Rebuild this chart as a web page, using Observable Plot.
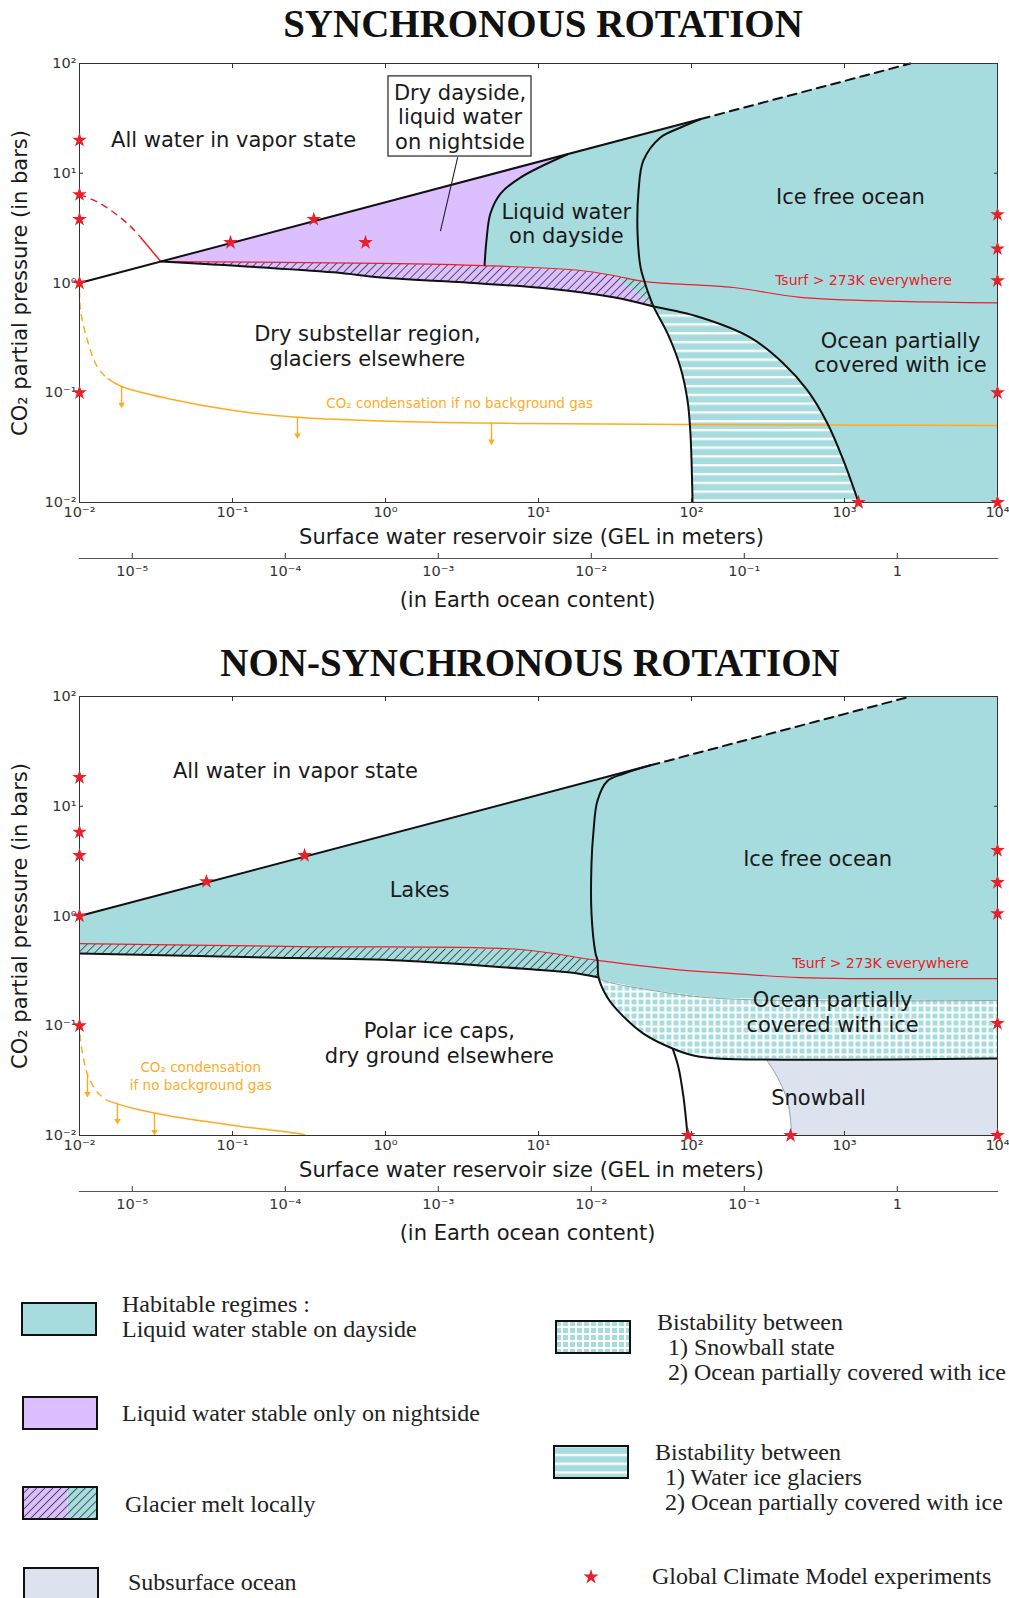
<!DOCTYPE html>
<html>
<head>
<meta charset="utf-8">
<script src="https://cdn.jsdelivr.net/npm/d3@7"></script>
<script src="https://cdn.jsdelivr.net/npm/@observablehq/plot@0.6"></script>
<style>
  body { margin: 0; background: #fff; }
  #page { position: relative; width: 1009px; height: 1598px; overflow: hidden; }
  .title { position: absolute; left: 0; text-align: center; font-family: "Liberation Serif"; font-weight: bold; font-size: 39px; line-height: 39px; color: #111; white-space: nowrap; }
  .panel { position: absolute; left: 0; }
  .leg { position: absolute; font-family: "Liberation Serif"; font-size: 24px; line-height: 25px; color: #222; white-space: nowrap; }
  .sw { position: absolute; overflow: visible; }
</style>
</head>
<body>
<svg width="0" height="0" style="position:absolute">
  <defs>
    <pattern id="hatch" patternUnits="userSpaceOnUse" width="5.7" height="5.7" patternTransform="rotate(45)">
      <line x1="0" y1="0" x2="0" y2="5.7" stroke="#111" stroke-width="1.3"/>
    </pattern>
    <pattern id="stripes" patternUnits="userSpaceOnUse" width="10" height="8.8">
      <rect width="10" height="8.8" fill="#a7dcde"/>
      <rect y="0" width="10" height="2.3" fill="#ffffff"/>
    </pattern>
    <pattern id="grid" patternUnits="userSpaceOnUse" width="7" height="7">
      <rect width="7" height="7" fill="#ffffff"/>
      <rect x="1" y="1" width="5" height="5" fill="#a7dcde"/>
    </pattern>
  </defs>
</svg>
<div id="page">
  <div class="title" style="top:4px;width:1086px;">SYNCHRONOUS ROTATION</div>
  <div class="title" style="top:643px;width:1060px;">NON-SYNCHRONOUS ROTATION</div>
  <div class="panel" id="p1" style="top:50px;"></div>
  <div class="panel" id="p2" style="top:683px;"></div>
  <div id="legend"></div>
</div>
<script>
// ================= DATA (x = GEL in meters, y = CO2 partial pressure in bars) =================
const OCEAN_GEL = 2213; // meters of GEL in one Earth ocean
const xTicks = [0.01, 0.1, 1, 10, 100, 1000, 10000];
const xTickLabels = ["10⁻²", "10⁻¹", "10⁰", "10¹", "10²", "10³", "10⁴"];
const yTicks = [0.01, 0.1, 1, 10, 100];
const yTickLabels = ["10⁻²", "10⁻¹", "10⁰", "10¹", "10²"];
const oceanTicks = [1e-5, 1e-4, 1e-3, 1e-2, 1e-1, 1];
const oceanTickLabels = ["10⁻⁵", "10⁻⁴", "10⁻³", "10⁻²", "10⁻¹", "1"];

// ---- Synchronous rotation ----
const syncVaporLine = [[0.01, 1], [115, 31.2]];
const syncVaporDashed = [[115, 31.2], [2700, 100]];
const syncKink = [0.034, 1.57];
const syncRedCO2Dashed = [[0.01, 6.4], [0.0137, 5.3], [0.0206, 3.48], [0.0251, 2.6]];
const syncRedCO2Solid = [[0.0251, 2.6], [0.034, 1.57]];
const syncTsurf = [[0.034, 1.57], [0.927, 1.51], [4.38, 1.44], [18.8, 1.30], [30.9, 1.17], [49.3, 1.03], [188, 0.91], [515, 0.74], [2323, 0.68], [10000, 0.66]];
const syncLowerLine = [[0.034, 1.57], [0.457, 1.25], [0.927, 1.12], [4.18, 0.99], [11.5, 0.89], [30.9, 0.74], [56.5, 0.61]];
const syncDaysideCurve = [[15.5, 14.9], [7.62, 9.14], [5.65, 6.53], [4.85, 4.30], [4.57, 2.44], [4.44, 1.44]];
const syncOceanCurve = [[115, 31.2], [85, 26.1], [62.7, 21.2], [48.5, 13.1], [45.1, 6.97], [44.4, 2.82], [46.5, 1.38], [49.3, 1.03], [51.5, 0.855], [56.5, 0.61], [69.7, 0.347], [84.7, 0.170], [94.2, 0.0849], [98.4, 0.0426], [101.6, 0.01]];
const syncIceEdge = [[56.5, 0.61], [115, 0.485], [243, 0.318], [399, 0.185], [573, 0.105], [774, 0.0525], [984, 0.0242], [1236, 0.01]];
const syncHatchSplit = [[30.9, 1.17], [41.8, 0.855], [56.5, 0.61]];
const syncCO2Dashed = [[0.01, 0.855], [0.01016, 0.562], [0.01127, 0.299], [0.01312, 0.170], [0.01524, 0.135]];
const syncCO2Solid = [[0.01524, 0.135], [0.01884, 0.114], [0.0376, 0.0887], [0.1016, 0.0689], [0.278, 0.0594], [1.25, 0.0547], [7.62, 0.0525], [94.2, 0.0514], [10000, 0.0504]];
const syncArrows = [{x: 0.01884, y1: 0.114, y2: 0.078}, {x: 0.266, y1: 0.0597, y2: 0.041}, {x: 4.93, y1: 0.0533, y2: 0.036}];
const syncStars = [[0.01, 20], [0.01, 6.4], [0.01, 3.8], [0.01, 1], [0.01, 0.1], [0.097, 2.34], [0.34, 3.8], [0.74, 2.34], [10000, 4.2], [10000, 2.05], [10000, 1.05], [10000, 0.1], [10000, 0.01], [1236, 0.01]];
const syncLabels = [
  {x: 0.1016, y: 20.3, text: "All water in vapor state"},
  {x: 15.2, y: 3.52, text: "Liquid water\non dayside"},
  {x: 1094, y: 6.14, text: "Ice free ocean"},
  {x: 2323, y: 0.235, text: "Ocean partially\ncovered with ice"},
  {x: 0.762, y: 0.270, text: "Dry substellar region,\nglaciers elsewhere"}
];
const syncTsurfLabel = [{x: 1330, y: 1.077, text: "Tsurf > 273K everywhere"}];
const syncCO2Label = [{x: 3.05, y: 0.0815, text: "CO₂ condensation if no background gas"}];
const syncBox = [{x1: 1.046, x2: 9.0, y1: 14.2, y2: 76.3, x: 3.07, y: 32.9, text: "Dry dayside,\nliquid water\non nightside"}];
const syncLeader = [[2.96, 13.9], [2.29, 3.0]];

// ---- Non-synchronous rotation ----
const nsVaporLine = [[0.01, 1], [54, 23.6]];
const nsVaporDashed = [[54, 23.6], [2700, 100]];
const nsTsurf = [[0.01, 0.561], [0.278, 0.527], [7.62, 0.495], [24.3, 0.394], [94.2, 0.318], [188, 0.299], [515, 0.275], [10000, 0.269]];
const nsLowerLine = [[0.01, 0.455], [0.169, 0.419], [1.25, 0.393], [7.62, 0.332], [16.2, 0.305], [24.7, 0.275]];
const nsOceanCurve = [[54, 23.6], [36, 19.8], [28.2, 17.0], [24.3, 11.3], [22.9, 6.01], [22.2, 3.01], [22.2, 1.05], [23.6, 0.455], [24.3, 0.394], [24.7, 0.275], [28.2, 0.181], [34.4, 0.129], [48.5, 0.0849], [75.2, 0.0621], [103, 0.0536], [148, 0.0504], [10000, 0.0504]];
const nsBistableTop = [[24.7, 0.275], [26.6, 0.258], [56.5, 0.209], [155, 0.177], [10000, 0.170]];
const nsSnowballEdge = [[305, 0.0504], [365, 0.0338], [424, 0.0208], [444, 0.0137], [451, 0.01]];
const nsLowerBranch = [[75.2, 0.0621], [82.2, 0.0417], [88.7, 0.0222], [94.2, 0.01]];
const nsCO2Dashed = [[0.01, 0.107], [0.01016, 0.0735], [0.01094, 0.0417], [0.01146, 0.0338], [0.01312, 0.0247], [0.01524, 0.0208]];
const nsCO2Solid = [[0.01524, 0.0208], [0.02254, 0.0176], [0.0376, 0.0152], [0.1016, 0.01233], [0.291, 0.0102], [0.30, 0.01]];
const nsArrows = [{x: 0.01127, y1: 0.036, y2: 0.024}, {x: 0.0177, y1: 0.0196, y2: 0.0136}, {x: 0.0309, y1: 0.0158, y2: 0.0108}];
const nsStars = [[0.01, 18.3], [0.01, 5.8], [0.01, 3.56], [0.01, 1], [0.01, 0.1], [0.0676, 2.06], [0.296, 3.56], [10000, 3.96], [10000, 2.02], [10000, 1.05], [10000, 0.105], [10000, 0.01], [95, 0.01], [444, 0.01]];
const nsLabels = [
  {x: 0.258, y: 21.2, text: "All water in vapor state"},
  {x: 1.67, y: 1.74, text: "Lakes"},
  {x: 667, y: 3.34, text: "Ice free ocean"},
  {x: 836, y: 0.135, text: "Ocean partially\ncovered with ice"},
  {x: 676, y: 0.0222, text: "Snowball"},
  {x: 2.25, y: 0.0703, text: "Polar ice caps,\ndry ground elsewhere"}
];
const nsTsurfLabel = [{x: 1718, y: 0.377, text: "Tsurf > 273K everywhere"}];
const nsCO2Label = [{x: 0.062, y: 0.0356, text: "CO₂ condensation\nif no background gas"}];

// ---- Legend ----
const legendLeft = [
  {swatch: "teal", text: ["Habitable regimes :", "Liquid water stable on dayside"]},
  {swatch: "purple", text: ["Liquid water stable only on nightside"]},
  {swatch: "hatch", text: ["Glacier melt locally"]},
  {swatch: "snow", text: ["Subsurface ocean"]}
];
const legendRight = [
  {swatch: "grid", text: ["Bistability between", "1) Snowball state", "2) Ocean partially covered with ice"]},
  {swatch: "stripes", text: ["Bistability between", "1) Water ice glaciers", "2) Ocean partially covered with ice"]},
  {swatch: "star", text: ["Global Climate Model experiments"]}
];

// ================= STYLE =================
const COL = {teal: "#a7dcde", purple: "#dcbfff", snow: "#dce2ee", red: "#e8202a", orange: "#ffab1f", ink: "#1a1a1a", thin: "#8f9ba0"};
const rev = a => a.slice().reverse();
const fmtLog = (ticks, labels, scale = 1) => d => {
  let best = 0, bestDist = Infinity;
  ticks.forEach((t, i) => { const dist = Math.abs(Math.log10(d / (t * scale))); if (dist < bestDist) { bestDist = dist; best = i; } });
  return labels[best];
};

function frameAndAxes() {
  const oceanValues = oceanTicks.map(v => v * OCEAN_GEL);
  return [
    Plot.frame({stroke: "#333", strokeWidth: 1}),
    Plot.axisX(xTicks, {anchor: "bottom", tickSize: -4, tickPadding: 8, tickFormat: fmtLog(xTicks, xTickLabels), fontSize: 14.5, label: null}),
    Plot.axisX(xTicks, {anchor: "top", tickSize: -4, tickFormat: () => "", label: null}),
    Plot.axisY(yTicks, {anchor: "left", tickSize: -4, tickPadding: 7, tickFormat: fmtLog(yTicks, yTickLabels), fontSize: 14.5, label: null}),
    Plot.axisY(yTicks, {anchor: "right", tickSize: -4, tickFormat: () => "", label: null}),
    // twin axis: Earth ocean content
    Plot.frame({anchor: "bottom", dy: 56, stroke: "#555", strokeWidth: 1.2}),
    Plot.axisX(oceanValues, {anchor: "bottom", dy: 56, tickSize: -5, tickFormat: () => "", label: null}),
    Plot.text(oceanValues, {x: d => d, text: (d, i) => oceanTickLabels[i], frameAnchor: "bottom", dy: 69, lineAnchor: "middle", textAnchor: "middle", fontSize: 14.5, fill: "#333"}),
    Plot.text(["CO₂ partial pressure (in bars)"], {frameAnchor: "left", dx: -59, rotate: -90, textAnchor: "middle", lineAnchor: "middle", fontSize: 21, fill: COL.ink}),
    Plot.text(["Surface water reservoir size (GEL in meters)"], {frameAnchor: "bottom", dy: 35, dx: -7, textAnchor: "middle", lineAnchor: "middle", fontSize: 21, fill: COL.ink}),
    Plot.text(["(in Earth ocean content)"], {frameAnchor: "bottom", dy: 98, dx: -11, textAnchor: "middle", lineAnchor: "middle", fontSize: 21, fill: COL.ink})
  ];
}

function makePlot(marks) {
  return Plot.plot({
    width: 1009, height: 565,
    marginTop: 13, marginRight: 12, marginBottom: 113, marginLeft: 79,
    x: {type: "log", domain: [0.01, 10000], axis: null},
    y: {type: "log", domain: [0.01, 100], axis: null},
    style: {fontFamily: "DejaVu Sans", fontSize: "14px", color: "#333", background: "transparent", overflow: "visible"},
    marks
  });
}

const fill = (poly, f) => Plot.line(poly, {fill: f, stroke: "none", curve: "linear"});
const curve = (data, o) => Plot.line(data, {curve: "catmull-rom", strokeLinecap: "butt", ...o});
const black = d => curve(d, {stroke: "#111", strokeWidth: 2});
const arrows = a => [
  Plot.ruleX(a, {x: "x", y1: "y1", y2: "y2", stroke: COL.orange, strokeWidth: 1.4}),
  Plot.dot(a, {x: "x", y: "y2", symbol: "triangle", rotate: 180, r: 2.4, fill: COL.orange, stroke: "none"})
];
const labels = (d, o) => Plot.text(d, {x: "x", y: "y", text: "text", lineHeight: 1.17, fill: COL.ink, fontSize: 21, ...o});
const stars = s => Plot.dot(s, {symbol: "star", r: 4.6, fill: COL.red, stroke: "none"});

// ---------- Panel 1 ----------
const syncPurplePoly = [syncKink, syncDaysideCurve[0], ...syncDaysideCurve.slice(1),
  ...syncTsurf.filter(p => p[0] > 4.44 && p[0] <= 30.9), ...syncHatchSplit.slice(1), ...rev(syncLowerLine).slice(1)];
const syncTealPoly = [syncDaysideCurve[0], ...syncVaporDashed, [10000, 100], [10000, 0.01], ...rev(syncIceEdge),
  ...rev(syncHatchSplit).slice(1), ...rev(syncTsurf.filter(p => p[0] > 4.44 && p[0] < 30.9)), ...rev(syncDaysideCurve)];
const syncStripePoly = [...syncIceEdge, ...rev(syncOceanCurve.filter(p => p[1] <= 0.61))];
const syncHatchPoly = [...syncTsurf.filter(p => p[0] <= 49.3), ...syncOceanCurve.filter(p => p[1] < 1.03 && p[1] > 0.61), ...rev(syncLowerLine)];

const p1 = makePlot([
  fill(syncPurplePoly, COL.purple),
  fill(syncTealPoly, COL.teal),
  fill(syncStripePoly, "url(#stripes)"),
  fill(syncHatchPoly, "url(#hatch)"),
  curve(syncTsurf, {stroke: COL.red, strokeWidth: 1.2}),
  curve(syncRedCO2Dashed, {stroke: COL.red, strokeWidth: 1.5, strokeDasharray: "7,5"}),
  curve(syncRedCO2Solid, {stroke: COL.red, strokeWidth: 1.5}),
  curve(syncCO2Dashed, {stroke: COL.orange, strokeWidth: 1.5, strokeDasharray: "7,5"}),
  curve(syncCO2Solid, {stroke: COL.orange, strokeWidth: 1.5}),
  ...arrows(syncArrows),
  Plot.line(syncVaporLine, {stroke: "#111", strokeWidth: 2}),
  Plot.line(syncVaporDashed, {stroke: "#111", strokeWidth: 2, strokeDasharray: "9,6"}),
  black(syncOceanCurve), black(syncDaysideCurve), black(syncLowerLine), black(syncIceEdge),
  Plot.line(syncLeader, {stroke: "#222", strokeWidth: 1.1}),
  Plot.rect(syncBox, {x1: "x1", x2: "x2", y1: "y1", y2: "y2", fill: "white", stroke: "#222", strokeWidth: 1.2}),
  labels(syncBox),
  labels(syncLabels),
  labels(syncTsurfLabel, {fill: COL.red, fontSize: 14}),
  labels(syncCO2Label, {fill: COL.orange, fontSize: 13.5}),
  ...frameAndAxes(),
  stars(syncStars)
]);
document.getElementById("p1").appendChild(p1);

// ---------- Panel 2 ----------
const nsTealPoly = [nsVaporLine[0], ...nsVaporDashed, [10000, 100], ...rev(nsBistableTop), ...rev(nsLowerLine).slice(1)];
const nsGridPoly = [...nsBistableTop, [10000, 0.0504], ...rev(nsOceanCurve.filter(p => p[1] <= 0.275)).slice(1)];
const nsSnowPoly = [nsSnowballEdge[0], [10000, 0.0504], [10000, 0.01], ...rev(nsSnowballEdge)];
const nsHatchPoly = [...nsTsurf.filter(p => p[0] <= 24.3), ...rev(nsLowerLine)];

const p2 = makePlot([
  fill(nsTealPoly, COL.teal),
  fill(nsGridPoly, "url(#grid)"),
  fill(nsSnowPoly, COL.snow),
  fill(nsHatchPoly, "url(#hatch)"),
  curve(nsBistableTop, {stroke: COL.thin, strokeWidth: 0.9}),
  curve(nsSnowballEdge, {stroke: COL.thin, strokeWidth: 0.9}),
  curve(nsTsurf, {stroke: COL.red, strokeWidth: 1.2}),
  curve(nsCO2Dashed, {stroke: COL.orange, strokeWidth: 1.5, strokeDasharray: "7,5"}),
  curve(nsCO2Solid, {stroke: COL.orange, strokeWidth: 1.5}),
  ...arrows(nsArrows),
  Plot.line(nsVaporLine, {stroke: "#111", strokeWidth: 2}),
  Plot.line(nsVaporDashed, {stroke: "#111", strokeWidth: 2, strokeDasharray: "9,6"}),
  black(nsOceanCurve), black(nsLowerLine), black(nsLowerBranch),
  labels(nsLabels),
  labels(nsTsurfLabel, {fill: COL.red, fontSize: 14}),
  labels(nsCO2Label, {fill: COL.orange, fontSize: 13.5, lineHeight: 1.4}),
  ...frameAndAxes(),
  stars(nsStars)
]);
document.getElementById("p2").appendChild(p2);

// ---------- Legend ----------
function swatchSVG(kind, w, h) {
  const border = `<rect x="1" y="1" width="${w - 2}" height="${h - 2}" fill="none" stroke="#111" stroke-width="2"/>`;
  if (kind === "teal") return `<rect x="1" y="1" width="${w-2}" height="${h-2}" fill="${COL.teal}"/>` + border;
  if (kind === "purple") return `<rect x="1" y="1" width="${w-2}" height="${h-2}" fill="${COL.purple}"/>` + border;
  if (kind === "snow") return `<rect x="1" y="1" width="${w-2}" height="${h-2}" fill="${COL.snow}"/>` + border;
  if (kind === "grid") return `<rect x="1" y="1" width="${w-2}" height="${h-2}" fill="url(#grid)"/>` + border;
  if (kind === "stripes") return `<rect x="1" y="1" width="${w-2}" height="${h-2}" fill="url(#stripes)"/>` + border;
  if (kind === "hatch") return `<rect x="1" y="1" width="${(w-2)*0.6}" height="${h-2}" fill="${COL.purple}"/>` +
    `<rect x="${1+(w-2)*0.6}" y="1" width="${(w-2)*0.4}" height="${h-2}" fill="${COL.teal}"/>` +
    `<rect x="1" y="1" width="${w-2}" height="${h-2}" fill="url(#hatch)"/>` + border;
  return "";
}
const legendPos = {
  left: [{sx: 21, sy: 1302, tx: 122, ty: 1292}, {sx: 22, sy: 1396, tx: 122, ty: 1401}, {sx: 22, sy: 1486, tx: 125, ty: 1492}, {sx: 23, sy: 1567, tx: 128, ty: 1570}],
  right: [{sx: 555, sy: 1320, tx: 657, ty: 1310, indent: 11}, {sx: 553, sy: 1445, tx: 655, ty: 1440, indent: 10}, {sx: 591, sy: 1577, tx: 652, ty: 1564, indent: 0}]
};
const leg = document.getElementById("legend");
let html = "";
legendLeft.forEach((item, i) => {
  const p = legendPos.left[i];
  html += `<svg class="sw" style="left:${p.sx}px;top:${p.sy}px" width="76" height="34">${swatchSVG(item.swatch, 76, 34)}</svg>`;
  html += `<div class="leg" style="left:${p.tx}px;top:${p.ty}px">${item.text.join("<br>")}</div>`;
});
legendRight.forEach((item, i) => {
  const p = legendPos.right[i];
  if (item.swatch === "star") {
    const path = d3.symbol(d3.symbolStar, 70)();
    html += `<svg class="sw" style="left:${p.sx - 10}px;top:${p.sy - 10}px" width="20" height="20"><path transform="translate(10,10)" d="${path}" fill="${COL.red}"/></svg>`;
  } else {
    html += `<svg class="sw" style="left:${p.sx}px;top:${p.sy}px" width="76" height="34">${swatchSVG(item.swatch, 76, 34)}</svg>`;
  }
  html += `<div class="leg" style="left:${p.tx}px;top:${p.ty}px">` +
    item.text.map((t, j) => j === 0 ? `<div>${t}</div>` : `<div style="padding-left:${p.indent}px">${t}</div>`).join("") + `</div>`;
});
leg.innerHTML = html;
</script>
</body>
</html>
